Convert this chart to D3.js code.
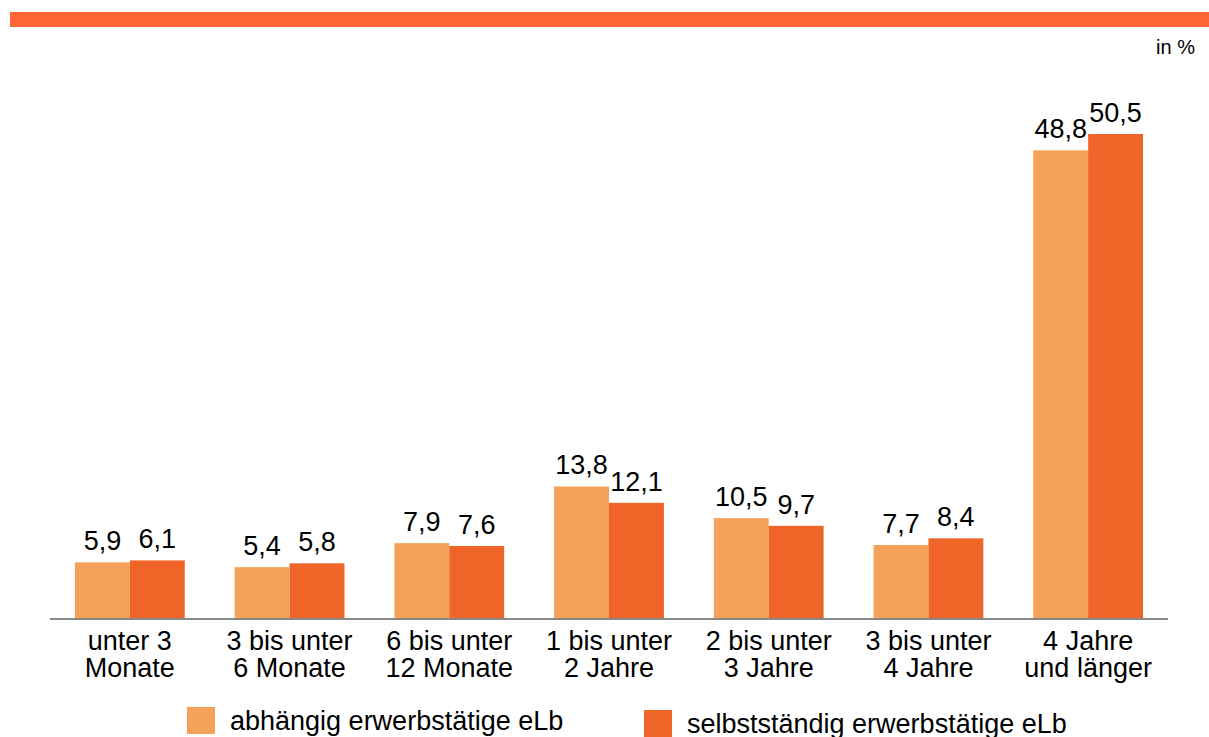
<!DOCTYPE html>
<html><head><meta charset="utf-8">
<script src="https://cdn.jsdelivr.net/npm/d3@7"></script>
<style>body{margin:0;background:#fff}svg{display:block}text{font-family:"Liberation Sans",Arial,sans-serif;fill:#000}</style>
</head><body><svg id="c" width="1209" height="737"></svg>
<script>
const categories = [["unter 3","Monate"],["3 bis unter","6 Monate"],["6 bis unter","12 Monate"],["1 bis unter","2 Jahre"],["2 bis unter","3 Jahre"],["3 bis unter","4 Jahre"],["4 Jahre","und länger"]];
const seriesNames = ["abhängig erwerbstätige eLb","selbstständig erwerbstätige eLb"];
const abhaengig = [5.9,5.4,7.9,13.8,10.5,7.7,48.8];
const selbst = [6.1,5.8,7.6,12.1,9.7,8.4,50.5];
const colors = ["#F4A25A","#EF6427"];
const unitLabel = "in %";

const svg = d3.select("#c");
svg.append("rect").attr("x",10).attr("y",12).attr("width",1199).attr("height",15).attr("fill","#FF6633");
svg.append("text").attr("x",1195).attr("y",54).attr("text-anchor","end").style("font-size","20px").text(unitLabel);

const keys = categories.map(c=>c.join(" "));
const x0 = d3.scaleBand().domain(keys).range([50,1168]).paddingInner(50/160).paddingOuter(25/160);
const x1 = d3.scaleBand().domain([0,1]).range([0,x0.bandwidth()]);
const y = d3.scaleLinear().domain([0,50.5]).range([619,134]);
const data = [abhaengig, selbst];

const g = svg.append("g");
data.forEach((vals,si)=>{
  vals.forEach((v,i)=>{
    const bx = x0(keys[i])+x1(si);
    g.append("rect").attr("x",bx).attr("y",y(v)).attr("width",x1.bandwidth()).attr("height",y(0)-y(v)).attr("fill",colors[si]);
    g.append("text").attr("x",bx+x1.bandwidth()/2).attr("y",y(v)-12).attr("text-anchor","middle").style("font-size","27px").text(d3.format(".1f")(v).replace(".",","));
  });
});
svg.append("line").attr("x1",50).attr("x2",1168).attr("y1",619).attr("y2",619).attr("stroke","#888").attr("stroke-width",2);
categories.forEach((c,i)=>{
  const t = svg.append("text").attr("x",x0(keys[i])+x0.bandwidth()/2).attr("y",650).attr("text-anchor","middle").style("font-size","27px");
  c.forEach((l,j)=>t.append("tspan").attr("x",x0(keys[i])+x0.bandwidth()/2).attr("dy",j?27:0).text(l));
});
const legX = [187,644], legY=[707,710];
seriesNames.forEach((n,i)=>{
  svg.append("rect").attr("x",legX[i]).attr("y",legY[i]).attr("width",28).attr("height",27).attr("fill",colors[i]);
  svg.append("text").attr("x",legX[i]+43).attr("y",legY[i]+23).style("font-size","27px").text(n);
});
</script></body></html>
